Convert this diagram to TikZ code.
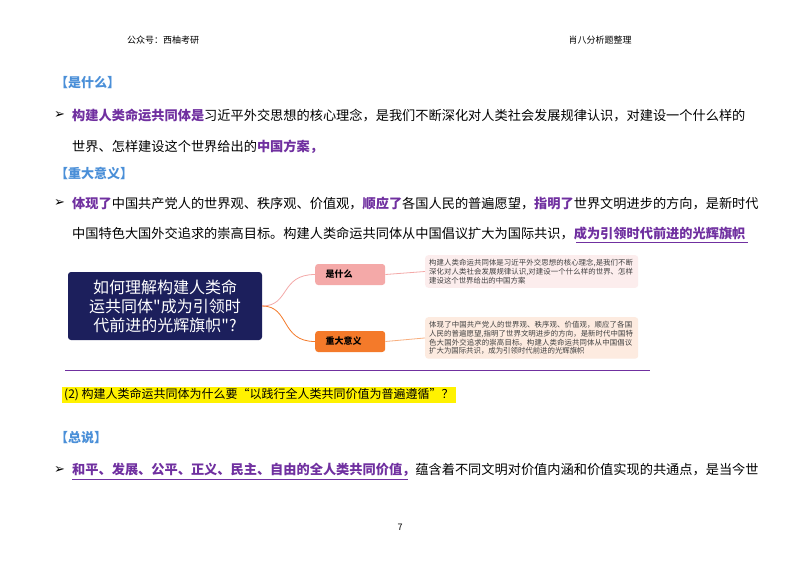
\documentclass[tikz,border=0pt]{standalone}
\usepackage{fontspec}
\newfontfamily\cjk{Noto Sans CJK SC}
\newfontfamily\dv{DejaVu Sans}
\XeTeXlinebreaklocale "zh"
\XeTeXlinebreakskip=0pt plus 1pt
\definecolor{pur}{HTML}{7030A0}
\definecolor{blu}{HTML}{4A8FD8}
\definecolor{navy}{HTML}{1C1F5C}
\definecolor{pinkb}{HTML}{F4A9A8}
\definecolor{orab}{HTML}{F47A2A}
\definecolor{pinkl}{HTML}{FCEDED}
\definecolor{peach}{HTML}{FDEBE0}
\begin{document}
\begin{tikzpicture}[x=1pt,y=-1pt,
  txt/.style={anchor=west,inner sep=0,font=\cjk\fontsize{13.2}{14}\selectfont},
  head/.style={anchor=west,inner sep=0,text=blu,font=\cjk\bfseries\fontsize{13}{14}\selectfont},
  bul/.style={anchor=west,inner sep=0,font=\dv\bfseries\fontsize{13}{14}\selectfont},
  small/.style={inner sep=0,font=\cjk\fontsize{9}{10}\selectfont},
  conn/.style={line width=0.8pt}]
\useasboundingbox (0,0) rectangle (800,566);
\fill[white] (0,0) rectangle (800,566);
\node[small] (h1) at (163,40) {公众号：西柚考研};
\node[small] (h2) at (600,40) {肖八分析题整理};
\node[head] (s1) at (55,83) {【是什么】};
\node[bul] (b1) at (54,115) {➢};
\node[txt] (l1) at (72,115) {\textcolor{pur}{\bfseries 构建人类命运共同体是}习近平外交思想的核心理念，是我们不断深化对人类社会发展规律认识，对建设一个什么样的};
\node[txt] (l2) at (72,147) {世界、怎样建设这个世界给出的\textcolor{pur}{\bfseries 中国方案，}};
\node[head] (s2) at (55,173) {【重大意义】};
\node[bul] (b2) at (54,203) {➢};
\node[txt] (l3) at (72,203) {\textcolor{pur}{\bfseries 体现了}中国共产党人的世界观、秩序观、价值观，\textcolor{pur}{\bfseries 顺应了}各国人民的普遍愿望，\textcolor{pur}{\bfseries 指明了}世界文明进步的方向，是新时代};
\node[txt] (l4) at (72,233) {中国特色大国外交追求的崇高目标。构建人类命运共同体从中国倡议扩大为国际共识，\textcolor{pur}{\bfseries 成为引领时代前进的光辉旗帜}};
\draw[pur,line width=1pt] (576,242) -- (748,242);
% mind map
\node[fill=navy,rounded corners=3pt,minimum width=194,minimum height=68,text=white,align=center,font=\cjk\fontsize{16}{19}\selectfont,inner sep=2] (m) at (165,306) {如何理解构建人类命\\运共同体"成为引领时\\代前进的光辉旗帜"?};
\node[fill=pinkb,rounded corners=3pt,minimum width=70,minimum height=21,anchor=west,font=\cjk\bfseries\fontsize{9}{10}\selectfont,inner sep=6] (a) at (315,274.5) {是什么\hspace*{22pt}};
\node[fill=orab,rounded corners=3pt,minimum width=70,minimum height=21,anchor=west,font=\cjk\bfseries\fontsize{9}{10}\selectfont,inner sep=6] (b) at (315,341.5) {重大意义\hspace*{13pt}};
\node[fill=pinkl,rounded corners=3pt,anchor=north west,text width=205,text=black!75,font=\cjk\fontsize{7.4}{8.8}\selectfont,inner sep=4] (ta) at (425,255) {构建人类命运共同体是习近平外交思想的核心理念,是我们不断深化对人类社会发展规律认识,对建设一个什么样的世界、怎样建设这个世界给出的中国方案};
\node[fill=peach,rounded corners=3pt,anchor=north west,text width=205,text=black!75,font=\cjk\fontsize{7.4}{8.8}\selectfont,inner sep=4] (tb) at (425,317) {体现了中国共产党人的世界观、秩序观、价值观，顺应了各国人民的普遍愿望,指明了世界文明进步的方向，是新时代中国特色大国外交追求的崇高目标。构建人类命运共同体从中国倡议扩大为国际共识，成为引领时代前进的光辉旗帜};
\draw[conn,pinkb] (m.east) .. controls (290,306) and (280,274.5) .. (a.west);
\draw[conn,orab] (m.east) .. controls (290,306) and (280,341.5) .. (b.west);
\draw[conn,pinkb] (a.east) -- (ta.west);
\draw[conn,orab!60] (b.east) -- (tb.west);
\draw[pur,line width=0.8pt] (65,370) -- (650,370);
\node[fill=yellow,anchor=west,inner sep=2,font=\cjk\fontsize{12}{13}\selectfont] (q) at (62,395) {(2)\ 构建人类命运共同体为什么要“以践行全人类共同价值为普遍遵循”？};
\node[head] (s3) at (55,438) {【总说】};
\node[bul] (b3) at (54,470) {➢};
\node[txt] (l5) at (72,470) {\textcolor{pur}{\bfseries 和平、发展、公平、正义、民主、自由的全人类共同价值，}蕴含着不同文明对价值内涵和价值实现的共通点，是当今世};
\draw[pur,line width=0.8pt] (72,479) -- (408,479);
\node[small] (pg) at (400,527) {7};
\end{tikzpicture}
\end{document}
